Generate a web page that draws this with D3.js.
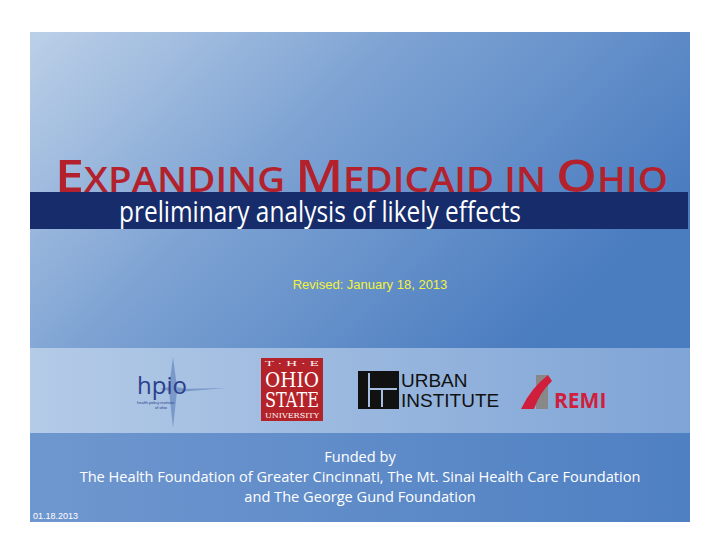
<!DOCTYPE html>
<html lang="en">
<head>
<meta charset="UTF-8" />
<title>Expanding Medicaid in Ohio</title>
<script src="https://d3js.org/d3.v7.min.js"></script>
<style>
  body { margin: 0; background: #fff; }
</style>
</head>
<body>
<div id="slide"></div>
<script>
var titleParts = [["E", 46], ["XPANDING ", 34], ["M", 46], ["EDICAID IN ", 34], ["O", 46], ["HIO", 34]];
var subtitle = "preliminary analysis of likely effects";
var revised = "Revised: January 18, 2013";
var fundedLines = ["Funded by",
  "The Health Foundation of Greater Cincinnati, The Mt. Sinai Health Care Foundation",
  "and The George Gund Foundation"];
var dateLabel = "01.18.2013";

var w = 720, h = 557;
var svg = d3.select("#slide").append("svg").attr("width", w).attr("height", h);
var defs = svg.append("defs");

function grad(id, stops, x2, y2) {
  var g = defs.append("linearGradient").attr("id", id)
    .attr("x1", 0).attr("y1", 0).attr("x2", x2).attr("y2", y2);
  stops.forEach(function(s) { g.append("stop").attr("offset", s[0]).attr("stop-color", s[1]); });
}
grad("top", [[0, "#bcd0e8"], [0.45, "#7ea3d3"], [1, "#4a7cc0"]], 1, 0.5);
grad("band", [[0, "#b4cbe7"], [1, "#7fa4d6"]], 1, 0);
grad("bot", [[0, "#6f97cf"], [1, "#4f80c2"]], 1, 0);

svg.append("rect").attr("x", 30).attr("y", 32).attr("width", 660).attr("height", 316).attr("fill", "url(#top)");
svg.append("rect").attr("x", 30).attr("y", 348).attr("width", 660).attr("height", 85).attr("fill", "url(#band)");
svg.append("rect").attr("x", 30).attr("y", 433).attr("width", 660).attr("height", 89).attr("fill", "url(#bot)");

// navy subtitle band
svg.append("rect").attr("x", 30).attr("y", 192).attr("width", 658).attr("height", 37).attr("fill", "#172c6b");

var title = svg.append("text").attr("x", 55).attr("y", 192)
  .attr("font-family", "'Open Sans', sans-serif").attr("font-weight", 600).attr("fill", "#b3222c");
title.selectAll("tspan").data(titleParts).enter().append("tspan")
  .attr("font-size", function(d) { return d[1] + "px"; })
  .text(function(d) { return d[0]; });
title.attr("textLength", 613).attr("lengthAdjust", "spacingAndGlyphs");

svg.append("text").attr("x", 119).attr("y", 222).attr("fill", "#fff")
  .attr("font-family", "'Open Sans', sans-serif").attr("font-size", "29px")
  .attr("textLength", 402).attr("lengthAdjust", "spacingAndGlyphs").text(subtitle);

svg.append("text").attr("x", 370).attr("y", 289).attr("text-anchor", "middle")
  .attr("fill", "#f2f23a").attr("font-family", "'Liberation Sans', Arial, sans-serif")
  .attr("font-size", "13px").text(revised);

// logos
var lg = svg.append("g");
lg.append("path").attr("d", "M173,357 L177,387 L186,389 L177,391 L173,428 L169,391 L160,389 L169,387 Z").attr("fill", "#6f8fc0").attr("opacity", 0.8);
lg.append("path").attr("d", "M178,389 L226,388 L178,392 Z").attr("fill", "#6f8fc0").attr("opacity", 0.8);
lg.append("text").attr("x", 137).attr("y", 394).attr("font-family", "'Open Sans', sans-serif")
  .attr("font-size", "24px").attr("fill", "#2b3f8c").text("hpio");
lg.append("text").attr("x", 137).attr("y", 404).attr("font-family", "sans-serif")
  .attr("font-size", "4px").attr("fill", "#2b3f8c").text("health policy institute");
lg.append("text").attr("x", 155).attr("y", 409).attr("font-family", "sans-serif")
  .attr("font-size", "4px").attr("fill", "#2b3f8c").text("of ohio");
lg.append("rect").attr("x", 261).attr("y", 358).attr("width", 62).attr("height", 63).attr("fill", "#b5232a");
var osu = [["T · H · E", 366, 7], ["OHIO", 387, 20], ["STATE", 407, 20], ["UNIVERSITY", 418, 7]];
lg.selectAll("text.osu").data(osu).enter().append("text").attr("class", "osu")
  .attr("x", 292).attr("y", function(d) { return d[1]; }).attr("text-anchor", "middle")
  .attr("font-family", "'DejaVu Serif', serif").attr("font-size", function(d) { return d[2] + "px"; })
  .attr("fill", "#fff").attr("textLength", 54).attr("lengthAdjust", "spacingAndGlyphs")
  .text(function(d) { return d[0]; });
lg.append("rect").attr("x", 358).attr("y", 371).attr("width", 41).attr("height", 38).attr("fill", "#111");
lg.append("path").attr("d", "M369,373 V407 M369,389 H397 M382,389 V407").attr("stroke", "#a6bfe0").attr("stroke-width", 2).attr("fill", "none");
lg.append("text").attr("x", 401).attr("y", 387).attr("font-family", "'Liberation Sans', sans-serif")
  .attr("font-size", "19px").attr("fill", "#111").text("URBAN");
lg.append("text").attr("x", 401).attr("y", 407).attr("font-family", "'Liberation Sans', sans-serif")
  .attr("font-size", "19px").attr("fill", "#111").text("INSTITUTE");
lg.append("path").attr("d", "M536,375 L548,375 L548,409 L536,409 Z").attr("fill", "#888");
lg.append("path").attr("d", "M548,375 Q531,388 521,409 L534,409 Q540,392 552,381 Z").attr("fill", "#d01f3c");
lg.append("text").attr("x", 554).attr("y", 408).attr("font-family", "'Open Sans', sans-serif")
  .attr("font-weight", "bold").attr("font-size", "21px").attr("fill", "#d01f3c").text("REMI");

svg.selectAll("text.fund").data(fundedLines).enter().append("text").attr("class", "fund")
  .attr("x", 360).attr("y", function(d, i) { return 462 + i * 20; }).attr("text-anchor", "middle")
  .attr("font-family", "'Open Sans', sans-serif").attr("font-size", "14.6px").attr("fill", "#fff")
  .text(function(d) { return d; });

svg.append("text").attr("x", 33).attr("y", 519).attr("font-family", "'Liberation Sans', sans-serif")
  .attr("font-size", "9px").attr("fill", "#fff").text(dateLabel);
</script>
</body>
</html>
